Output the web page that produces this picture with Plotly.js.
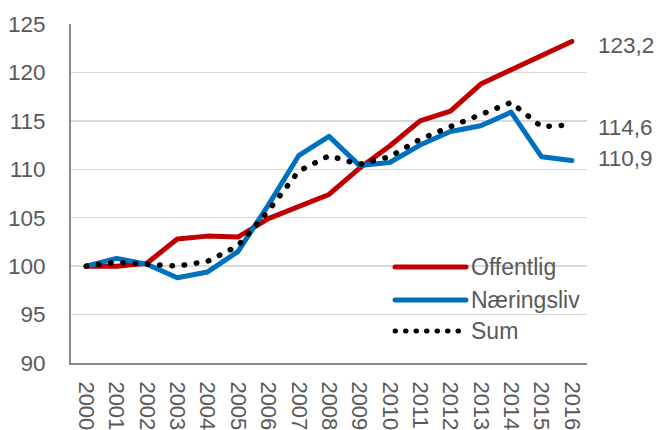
<!DOCTYPE html>
<html>
<head>
<meta charset="utf-8">
<script src="https://cdn.plot.ly/plotly-3.0.1.min.js"></script>
<style>
  html, body { margin: 0; padding: 0; background: #fff; }
  #chart { width: 658px; height: 430px; }
  .scatterlayer path.js-line, .shapelayer path { stroke-linecap: round; stroke-linejoin: round; }
</style>
</head>
<body>
<div id="chart"></div>
<script>
// ---- data ----
const years = ['2000','2001','2002','2003','2004','2005','2006','2007','2008','2009','2010','2011','2012','2013','2014','2015','2016'];
const offentlig   = [100.0, 100.0, 100.3, 102.8, 103.1, 103.0, 104.9, 106.2, 107.4, 110.1, 112.4, 115.0, 116.0, 118.8, 120.3, 121.8, 123.2];
const naeringsliv = [100.0, 100.8, 100.2,  98.8,  99.4, 101.5, 106.3, 111.4, 113.4, 110.4, 110.7, 112.5, 113.9, 114.5, 115.9, 111.3, 110.9];
const sum         = [100.0, 100.4, 100.2, 100.0, 100.5, 102.1, 105.7, 109.8, 111.4, 110.5, 111.3, 113.1, 114.4, 115.7, 116.9, 114.4, 114.6];
const seriesNames = ['Offentlig', 'Næringsliv', 'Sum'];
const yTicks = [90, 95, 100, 105, 110, 115, 120, 125];

// ---- style ----
const FONT = '"Liberation Sans", Arial, sans-serif';
const TXT = '#595959';
const colors = ['#C00000', '#0070C0', '#000000'];
const dashes = ['solid', 'solid', '0.5px,11.8px'];
const widths = [5, 5, 5.5];
const endShift = [-4, 2, -2.5];
const TICK_SIZE = 22.5, LEG_SIZE = 23;

const L = 71, R = 71, T = 24, B = 67, W = 658, H = 430;
const pw = W - L - R, ph = H - T - B;
const px = v => (v - L) / pw;
const py = v => (H - B - v) / ph;

const all = [offentlig, naeringsliv, sum];
const traces = all.map((vals, i) => ({
  type: 'scatter', mode: 'lines', x: years, y: vals, name: seriesNames[i],
  line: { color: colors[i], width: widths[i], dash: dashes[i] },
  showlegend: false, hoverinfo: 'skip'
}));

// end labels
const annotations = all.map((vals, i) => ({
  xref: 'paper', yref: 'y', x: px(596), y: vals[vals.length - 1],
  xanchor: 'left', yanchor: 'middle', yshift: endShift[i],
  text: vals[vals.length - 1].toFixed(1).replace('.', ','),
  showarrow: false, font: { family: FONT, size: TICK_SIZE, color: TXT }
}));

// custom legend
const legRows = [267, 300, 331];
const shapes = [];
seriesNames.forEach((n, i) => {
  shapes.push({
    type: 'line', xref: 'paper', yref: 'paper',
    x0: px(395), x1: px(466), y0: py(legRows[i]), y1: py(legRows[i]),
    line: { color: colors[i], width: 5, dash: i === 2 ? '0.5px,10px' : 'solid' }
  });
  annotations.push({
    xref: 'paper', yref: 'paper', x: px(469), y: py(legRows[i]),
    xanchor: 'left', yanchor: 'middle', text: n, showarrow: false,
    font: { family: FONT, size: LEG_SIZE, color: TXT }
  });
});

const layout = {
  width: W, height: H,
  margin: { l: L, r: R, t: T, b: B, pad: 0 },
  paper_bgcolor: '#fff', plot_bgcolor: '#fff',
  font: { family: FONT, size: TICK_SIZE, color: TXT },
  showlegend: false,
  xaxis: {
    type: 'category', range: [-0.5, years.length - 0.5],
    showgrid: false, zeroline: false,
    showline: true, linecolor: '#898989', linewidth: 2,
    ticks: '', tickangle: 90, ticklabelstandoff: 12,
    tickfont: { family: FONT, size: 22, color: TXT }
  },
  yaxis: {
    range: [90, 125], tickvals: yTicks, ticktext: yTicks.map(String),
    showgrid: true, gridcolor: '#D9D9D9', gridwidth: 1.5,
    zeroline: false, showline: true, linecolor: '#898989', linewidth: 2,
    ticks: '', ticklabelstandoff: 19,
    tickfont: { family: FONT, size: TICK_SIZE, color: TXT }
  },
  shapes: shapes,
  annotations: annotations
};

Plotly.newPlot('chart', traces, layout, { displayModeBar: false, staticPlot: true });
</script>
</body>
</html>
